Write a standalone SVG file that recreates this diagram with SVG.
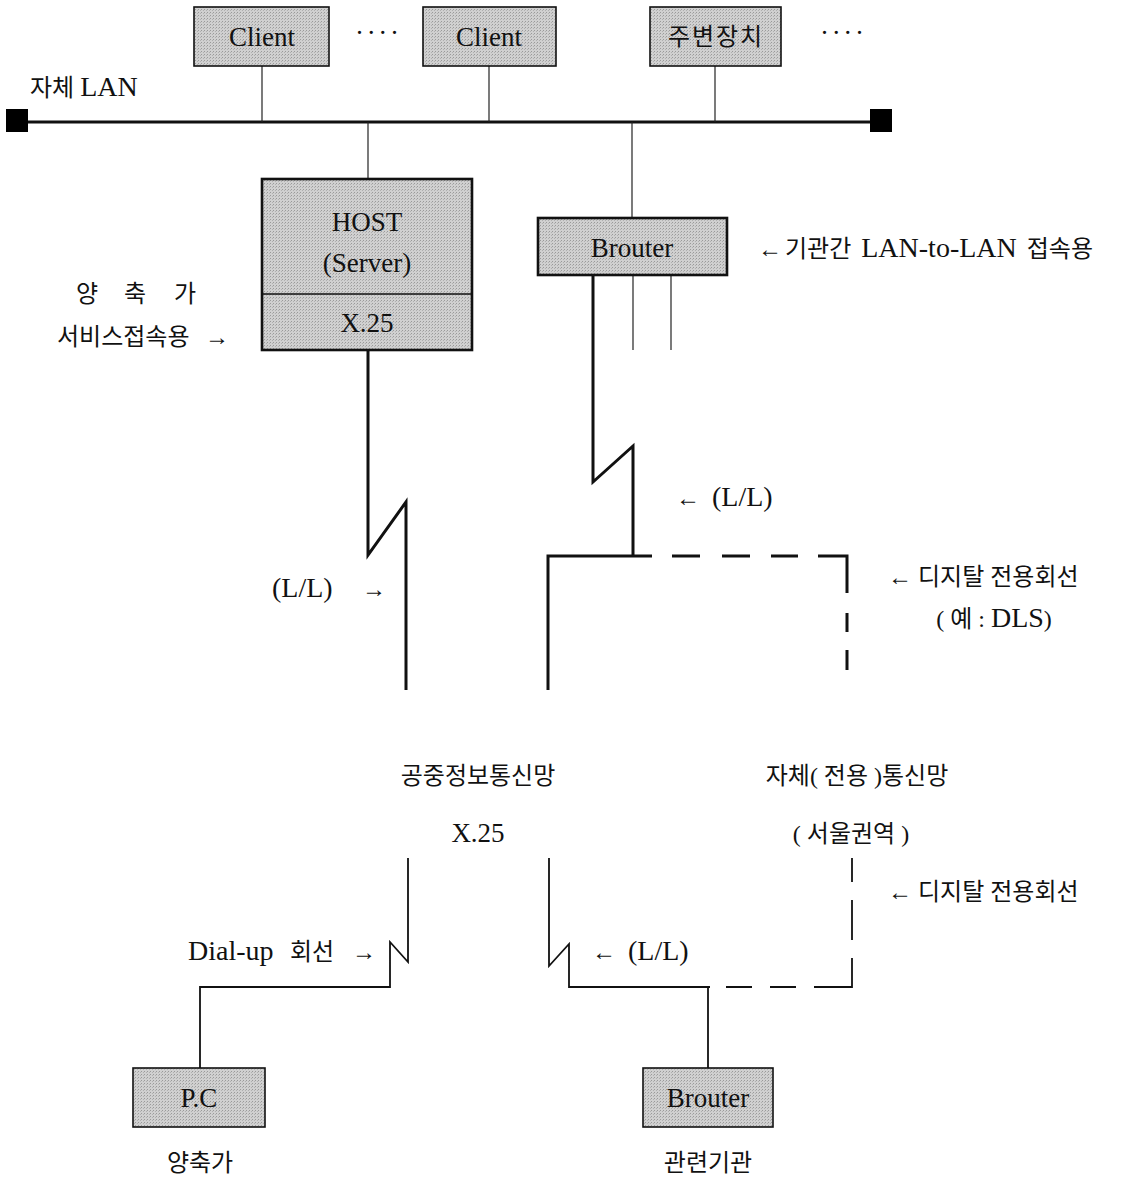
<svg xmlns="http://www.w3.org/2000/svg" width="1122" height="1177" viewBox="0 0 1122 1177">
<defs>
<pattern id="dots" width="3" height="3" patternUnits="userSpaceOnUse">
<rect width="3" height="3" fill="#d0d0d0"/>
<rect x="0" y="0" width="1" height="1" fill="#9a9a9a"/>
<rect x="2" y="1" width="1" height="1" fill="#b0b0b0"/>
</pattern>
</defs>
<style>
.box{fill:url(#dots);stroke:#111;stroke-width:1.6}
.hbox{fill:url(#dots);stroke:#111;stroke-width:2.6}
.t{font-family:"Liberation Serif","Noto Sans CJK KR",serif;font-size:27px;fill:#111}
.k{font-family:"Liberation Serif","Noto Sans CJK KR",serif;font-size:24px;fill:#111}
.l{font-family:"Liberation Serif","Noto Sans CJK KR",serif;font-size:28px;fill:#111}
.thin{stroke:#222;stroke-width:1.2;fill:none}
.mid{stroke:#111;stroke-width:1.8;fill:none}
.thick{stroke:#111;stroke-width:3;fill:none}
</style>

<g id="connectors">
<line class="thick" x1="18" y1="122" x2="880" y2="122"/>
<line class="thin" x1="262" y1="66" x2="262" y2="122"/>
<line class="thin" x1="489" y1="66" x2="489" y2="122"/>
<line class="thin" x1="715" y1="66" x2="715" y2="122"/>
<line class="thin" x1="368" y1="122" x2="368" y2="179"/>
<line class="thin" x1="632" y1="122" x2="632" y2="218"/>
<line class="thin" x1="633" y1="275" x2="633" y2="350"/>
<line class="thin" x1="671" y1="275" x2="671" y2="350"/>
<polyline class="thick" points="368,350 368,555 406,502 406,690"/>
<polyline class="thick" points="593,275 593,482 633,446 633,556"/>
<polyline class="thick" points="548,690 548,556 652,556"/>
<path class="thick" d="M672,556 H700 M722,556 H750 M771,556 H798 M818,556 H847 V593 M847,613 V632 M847,650 V670"/>
<polyline class="mid" points="408,858 408,962 390,942 390,987 200,987 200,1068"/>
<polyline class="mid" points="549,858 549,966 569,944 569,987 710,987"/>
<path class="mid" d="M726,987 H752 M770,987 H796 M814,987 H852 V958 M852,940 V900 M852,882 V858"/>
<line class="mid" x1="708" y1="987" x2="708" y2="1068"/>
</g>

<g id="lan-ends">
<rect x="6" y="109" width="22" height="23" fill="#000"/>
<rect x="870" y="109" width="22" height="23" fill="#000"/>
</g>

<g id="client1"><rect class="box" x="194" y="7" width="135" height="59"/><text class="t" x="262" y="46" text-anchor="middle">Client</text></g>
<g id="client2"><rect class="box" x="423" y="7" width="133" height="59"/><text class="t" x="489" y="46" text-anchor="middle">Client</text></g>
<g id="peripheral"><rect class="box" x="650" y="7" width="131" height="59"/><text class="k" x="715" y="45" text-anchor="middle" textLength="94" lengthAdjust="spacing">주변장치</text></g>
<g id="dots-labels">
<text class="t" x="377" y="42" text-anchor="middle" textLength="44" lengthAdjust="spacing">····</text>
<text class="t" x="842" y="42" text-anchor="middle" textLength="44" lengthAdjust="spacing">····</text>
</g>
<g id="lan-label"><text class="k" x="30" y="96">자체 <tspan class="l">LAN</tspan></text></g>

<g id="host">
<rect class="hbox" x="262" y="179" width="210" height="171"/>
<line stroke="#111" stroke-width="1.6" x1="262" y1="294" x2="472" y2="294"/>
<text class="t" x="367" y="231" text-anchor="middle">HOST</text>
<text class="t" x="367" y="272" text-anchor="middle">(Server)</text>
<text class="t" x="367" y="332" text-anchor="middle">X.25</text>
</g>
<g id="host-label">
<text class="k" x="87" y="302" text-anchor="middle">양</text>
<text class="k" x="135" y="302" text-anchor="middle">축</text>
<text class="k" x="185" y="302" text-anchor="middle">가</text>
<text class="k" x="57" y="345">서비스접속용</text>
<text class="k" x="205" y="345">→</text>
</g>

<g id="brouter-top">
<rect class="hbox" x="538" y="218" width="189" height="57"/>
<text class="t" x="632" y="257" text-anchor="middle">Brouter</text>
</g>
<g id="brouter-label">
<text class="k" x="758" y="257">←</text>
<text class="k" x="785" y="257" word-spacing="4">기관간 <tspan class="l">LAN-to-LAN</tspan> 접속용</text>
</g>

<g id="labels-ll">
<text class="k" x="676" y="506">←</text>
<text class="l" x="712" y="506">(L/L)</text>
<text class="l" x="272" y="597">(L/L)</text>
<text class="k" x="362" y="597">→</text>
<text class="k" x="888" y="585">←</text>
<text class="k" x="918" y="585">디지탈 전용회선</text>
<text class="k" x="994" y="627" text-anchor="middle">( 예 : <tspan class="l">DLS</tspan>)</text>
</g>

<g id="public-net">
<text class="k" x="478" y="784" text-anchor="middle">공중정보통신망</text>
<text class="t" x="478" y="842" text-anchor="middle">X.25</text>
</g>
<g id="private-net">
<text class="k" x="857" y="784" text-anchor="middle">자체( 전용 )통신망</text>
<text class="k" x="851" y="842" text-anchor="middle">( 서울권역 )</text>
</g>
<g id="labels-bottom">
<text class="k" x="888" y="900">←</text>
<text class="k" x="918" y="900">디지탈 전용회선</text>
<text class="l" x="188" y="960">Dial-up</text>
<text class="k" x="290" y="960">회선</text>
<text class="k" x="352" y="960">→</text>
<text class="k" x="592" y="960">←</text>
<text class="l" x="628" y="960">(L/L)</text>
</g>

<g id="pc"><rect class="box" x="133" y="1068" width="132" height="59"/><text class="t" x="199" y="1107" text-anchor="middle">P.C</text></g>
<text class="k" x="200" y="1171" text-anchor="middle">양축가</text>
<g id="brouter-bottom"><rect class="box" x="643" y="1068" width="130" height="59"/><text class="t" x="708" y="1107" text-anchor="middle">Brouter</text></g>
<text class="k" x="708" y="1171" text-anchor="middle">관련기관</text>
</svg>
